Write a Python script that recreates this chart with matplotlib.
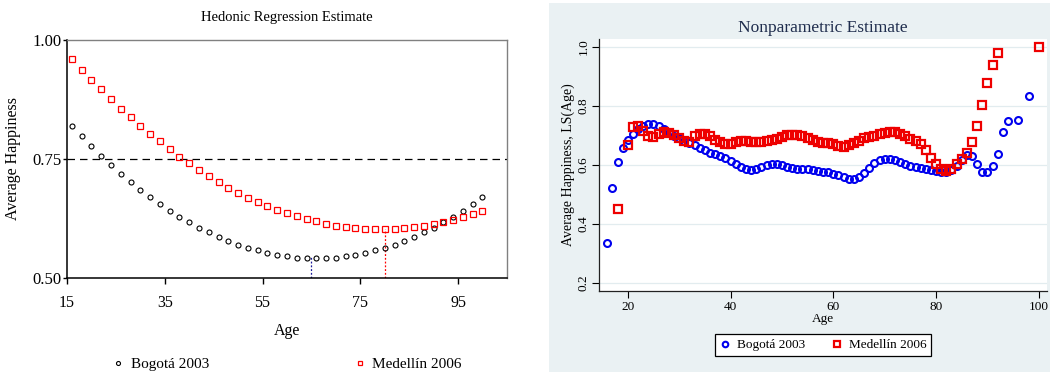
import matplotlib
matplotlib.use('Agg')
import matplotlib.pyplot as plt
from matplotlib.patches import Rectangle

plt.rcParams['font.family'] = ['Liberation Serif', 'DejaVu Serif']

# Left panel: hedonic regression estimate (every 2 years)
hed_ages = list(range(16, 101, 2))
hed_bogota = [0.820, 0.798, 0.777, 0.757, 0.738, 0.719, 0.702, 0.685, 0.670, 0.656,
              0.641, 0.629, 0.617, 0.605, 0.596, 0.586, 0.578, 0.570, 0.563, 0.558,
              0.553, 0.548, 0.546, 0.543, 0.541, 0.541, 0.541, 0.543, 0.546, 0.548,
              0.553, 0.558, 0.563, 0.570, 0.578, 0.586, 0.596, 0.605, 0.617, 0.629,
              0.641, 0.655, 0.670]
hed_medellin = [0.961, 0.938, 0.916, 0.896, 0.876, 0.856, 0.838, 0.820, 0.803, 0.787,
                0.770, 0.755, 0.741, 0.727, 0.714, 0.702, 0.690, 0.679, 0.669, 0.659,
                0.651, 0.643, 0.636, 0.630, 0.624, 0.619, 0.614, 0.610, 0.607, 0.605,
                0.603, 0.603, 0.603, 0.603, 0.605, 0.607, 0.610, 0.613, 0.617, 0.622,
                0.628, 0.634, 0.641]
min_age_bogota, min_val_bogota = 65, 0.544
min_age_medellin, min_val_medellin = 80, 0.603

# Right panel: nonparametric estimate
np_bog_ages = list(range(16, 95)) + [96, 98]
np_bogota = [0.337, 0.522, 0.609, 0.656, 0.684, 0.705, 0.722, 0.733, 0.740, 0.740,
             0.733, 0.722, 0.708, 0.697, 0.690, 0.683, 0.676, 0.668, 0.659, 0.650,
             0.642, 0.638, 0.632, 0.623, 0.614, 0.603, 0.593, 0.586, 0.584, 0.587,
             0.594, 0.601, 0.603, 0.602, 0.599, 0.594, 0.590, 0.586, 0.585, 0.585,
             0.584, 0.581, 0.578, 0.575, 0.570, 0.565, 0.558, 0.553, 0.553, 0.559,
             0.574, 0.591, 0.607, 0.617, 0.620, 0.620, 0.616, 0.610, 0.604, 0.597,
             0.593, 0.591, 0.588, 0.584, 0.580, 0.577, 0.577, 0.583, 0.597, 0.617,
             0.634, 0.630, 0.603, 0.577, 0.577, 0.597, 0.639, 0.711, 0.750, 0.751,
             0.834]
np_med_ages = [18] + list(range(20, 93)) + [100]
np_medellin = [0.451, 0.669, 0.728, 0.733, 0.714, 0.699, 0.696, 0.706, 0.711, 0.708,
               0.703, 0.692, 0.680, 0.678, 0.697, 0.706, 0.706, 0.697, 0.686, 0.677,
               0.671, 0.671, 0.677, 0.681, 0.681, 0.679, 0.679, 0.679, 0.680, 0.684,
               0.687, 0.695, 0.702, 0.702, 0.701, 0.697, 0.690, 0.684, 0.677, 0.675,
               0.675, 0.671, 0.666, 0.662, 0.667, 0.673, 0.680, 0.690, 0.695, 0.699,
               0.704, 0.708, 0.711, 0.711, 0.705, 0.697, 0.688, 0.680, 0.671, 0.650,
               0.625, 0.603, 0.586, 0.579, 0.586, 0.603, 0.621, 0.641, 0.677, 0.733,
               0.805, 0.878, 0.940, 0.980, 1.000]

fig = plt.figure(figsize=(10.5, 3.72), dpi=100)

# ---- left: hedonic regression
ax1 = fig.add_axes([0.0638, 0.2527, 0.4190, 0.6398])
ax1.axhline(0.75, color='black', lw=0.9, ls=(0, (6, 4)), zorder=1)
ax1.plot([min_age_bogota, min_age_bogota], [0.5, min_val_bogota], color='#1a1a9a',
         lw=0.9, ls=(0, (1.5, 1.5)), zorder=1)
ax1.plot([min_age_medellin, min_age_medellin], [0.5, min_val_medellin], color='red',
         lw=0.9, ls=(0, (1.5, 1.5)), zorder=1)
ax1.plot(hed_ages, hed_bogota, 'o', ls='none', ms=3.6, mfc='none', mec='black',
         mew=0.8, label='Bogotá 2003', zorder=3)
ax1.plot(hed_ages, hed_medellin, 's', ls='none', ms=4.0, mfc='none', mec='red',
         mew=0.9, label='Medellín 2006', zorder=3)
ax1.set_xlim(15, 105)
ax1.set_ylim(0.5, 1.0)
ax1.set_xticks([15, 35, 55, 75, 95])
ax1.set_yticks([0.50, 0.75, 1.00])
ax1.set_yticklabels(['0.50', '0.75', '1.00'])
ax1.tick_params(axis='x', direction='out', length=4, width=1, pad=8, labelsize=11.5)
ax1.tick_params(axis='y', direction='out', length=3, width=1, pad=1, labelsize=12)
for s in ['left', 'bottom']:
    ax1.spines[s].set_color('black')
    ax1.spines[s].set_linewidth(1.1)
for s in ['top', 'right']:
    ax1.spines[s].set_color('#808080')
    ax1.spines[s].set_linewidth(1.0)
ax1.set_title('Hedonic Regression Estimate', fontsize=10.5, pad=14)
ax1.set_xlabel('Age', fontsize=11.5, labelpad=9)
ax1.set_ylabel('Average Happiness', fontsize=11.5, labelpad=8)
ax1.legend(loc='center', bbox_to_anchor=(0.5, -0.362), ncol=2, frameon=False,
           fontsize=11, handlelength=0.8, handletextpad=0.4, columnspacing=9.5,
           markerscale=0.8)

# ---- right: nonparametric estimate
fig.patches.append(Rectangle((549 / 1050, 0), 501 / 1050, 369 / 372,
                             transform=fig.transFigure, facecolor='#eaf1f3',
                             edgecolor='none', zorder=-10))
ax2 = fig.add_axes([0.5705, 0.2177, 0.4267, 0.6774])
ax2.set_facecolor('white')
for y in [0.2, 0.4, 0.6, 0.8, 1.0]:
    ax2.axhline(y, color='#e2ecef', lw=0.9, zorder=0)
ax2.plot(np_bog_ages, np_bogota, 'o', ls='none', ms=5.0, mfc='none', mec='#0000ee',
         mew=1.5, label='Bogotá 2003', zorder=3)
ax2.plot(np_med_ages, np_medellin, 's', ls='none', ms=5.6, mfc='none', mec='#ee0000',
         mew=1.6, label='Medellín 2006', zorder=4)
ax2.set_xlim(14.4, 101.6)
ax2.set_ylim(0.173, 1.027)
ax2.set_xticks([20, 40, 60, 80, 100])
ax2.set_yticks([0.2, 0.4, 0.6, 0.8, 1.0])
ax2.set_yticklabels(['0.2', '0.4', '0.6', '0.8', '1.0'], rotation=90, va='center')
ax2.tick_params(axis='x', direction='out', length=5, width=0.8, pad=2, labelsize=9.5)
ax2.tick_params(axis='y', direction='out', length=5, width=0.8, pad=2, labelsize=9.5)
for s in ['top', 'right']:
    ax2.spines[s].set_visible(False)
for s in ['left', 'bottom']:
    ax2.spines[s].set_color('#222222')
    ax2.spines[s].set_linewidth(0.9)
ax2.set_title('Nonparametric Estimate', fontsize=12.5, color='#1f2d4d', pad=5)
ax2.set_xlabel('Age', fontsize=9.5, labelpad=0)
ax2.set_ylabel('Average Happiness, LS(Age)', fontsize=10, labelpad=2)
leg = ax2.legend(loc='center', bbox_to_anchor=(823 / 1050, 1 - 345 / 372),
                 bbox_transform=fig.transFigure, ncol=2, fontsize=9.5,
                 frameon=True, fancybox=False, edgecolor='black', framealpha=1,
                 handlelength=0.8, handletextpad=0.5, columnspacing=2.0,
                 borderpad=0.35, markerscale=0.8)
leg.get_frame().set_linewidth(0.9)

fig.savefig('out.png', dpi=100)
